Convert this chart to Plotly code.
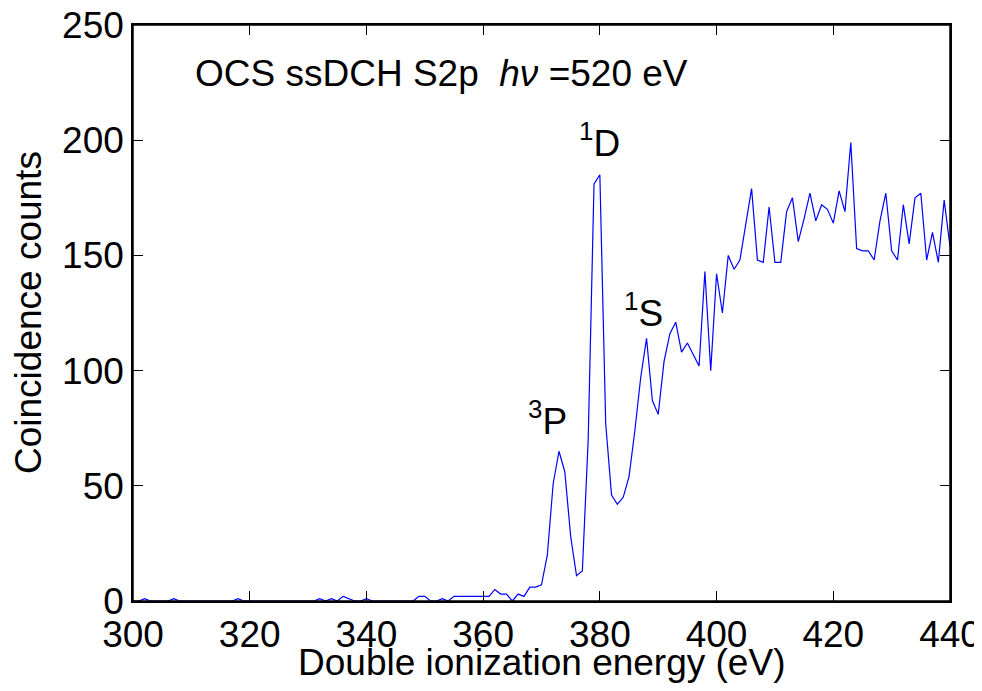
import plotly.graph_objects as go

energy = list(range(300, 441))
counts = [
    0, 0, 1, 0, 0, 0, 0, 1, 0, 0,          # 300-309
    0, 0, 0, 0, 0, 0, 0, 0, 1, 0,          # 310-319
    0, 0, 0, 0, 0, 0, 0, 0, 0, 0,          # 320-329
    0, 0, 1, 0, 1, 0, 2, 1, 0, 0,          # 330-339
    1, 0, 0, 0, 0, 0, 0, 0, 0, 2,          # 340-349
    2, 0, 0, 1, 0, 2, 2, 2, 2, 2,          # 350-359
    2, 2, 5, 3, 3, 0, 3, 2, 6, 6,          # 360-369
    7, 20, 51, 65, 56, 28, 11, 13, 70, 181,  # 370-379
    185, 77, 46, 42, 45, 54, 74, 97, 114, 87,  # 380-389
    81, 104, 116, 121, 108, 112, 107, 102, 143, 100,  # 390-399
    142, 125, 150, 144, 148, 163, 179, 148, 147, 171,  # 400-409
    147, 147, 169, 175, 156, 166, 177, 165, 172, 170,  # 410-419
    164, 178, 169, 199, 153, 152, 152, 148, 165, 177,  # 420-429
    152, 148, 172, 155, 175, 177, 148, 160, 147, 174,  # 430-439
    154,                                     # 440
]

x_ticks = [300, 320, 340, 360, 380, 400, 420, 440]
y_ticks = [0, 50, 100, 150, 200, 250]

labels = [
    ("<sup>1</sup>D", 380.0, 200),
    ("<sup>1</sup>S", 387.4, 126),
    ("<sup>3</sup>P", 371.1, 79),
]

FONT = "Liberation Sans, Arial, Helvetica, sans-serif"
FS = 37

fig = go.Figure()
fig.add_trace(go.Scatter(x=energy, y=counts, mode="lines",
                         line=dict(color="#0000ff", width=1.2),
                         showlegend=False))

for txt, xv, yv in labels:
    fig.add_annotation(x=xv, y=yv, text=txt, showarrow=False,
                       font=dict(size=FS, color="black", family=FONT))

fig.add_annotation(x=310.3, y=229, text="OCS ssDCH S2p  <i>hν</i> =520 eV",
                   xanchor="left", showarrow=False,
                   font=dict(size=FS, color="black", family=FONT))

# axis titles placed as paper annotations
fig.add_annotation(xref="paper", yref="paper", x=0.5, y=-0.1076,
                   text="Double ionization energy (eV)", showarrow=False,
                   xanchor="center", yanchor="middle",
                   font=dict(size=FS, color="black", family=FONT))
fig.add_annotation(xref="paper", yref="paper", x=-0.1285, y=0.5,
                   text="Coincidence counts", showarrow=False, textangle=-90,
                   xanchor="center", yanchor="middle",
                   font=dict(size=FS, color="black", family=FONT))

# full box around the plotting area
fig.add_shape(type="rect", xref="paper", yref="paper", x0=0, x1=1, y0=0, y1=1,
              line=dict(color="black", width=1.5), layer="above")

axis_common = dict(
    showline=True, linecolor="black", linewidth=1.5, mirror="ticks",
    ticks="inside", ticklen=10, tickwidth=1, tickcolor="black",
    showgrid=False, zeroline=False, automargin=False,
    ticklabeloverflow="allow",
    tickfont=dict(size=FS, color="black", family=FONT),
)

fig.update_xaxes(range=[300, 440], tickvals=x_ticks, **axis_common)
fig.update_yaxes(range=[0, 250], tickvals=y_ticks, **axis_common)

# page body has an 8px default margin; size the figure so the page fits the
# 982x691 window without scrollbars and the plot box lands at x 133..950,
# y 25..601
fig.update_layout(width=966, height=675,
                  margin=dict(l=125, r=24, t=17, b=82, autoexpand=False),
                  plot_bgcolor="white", paper_bgcolor="white",
                  font=dict(family=FONT, color="black"))

fig.write_html("out.html")
